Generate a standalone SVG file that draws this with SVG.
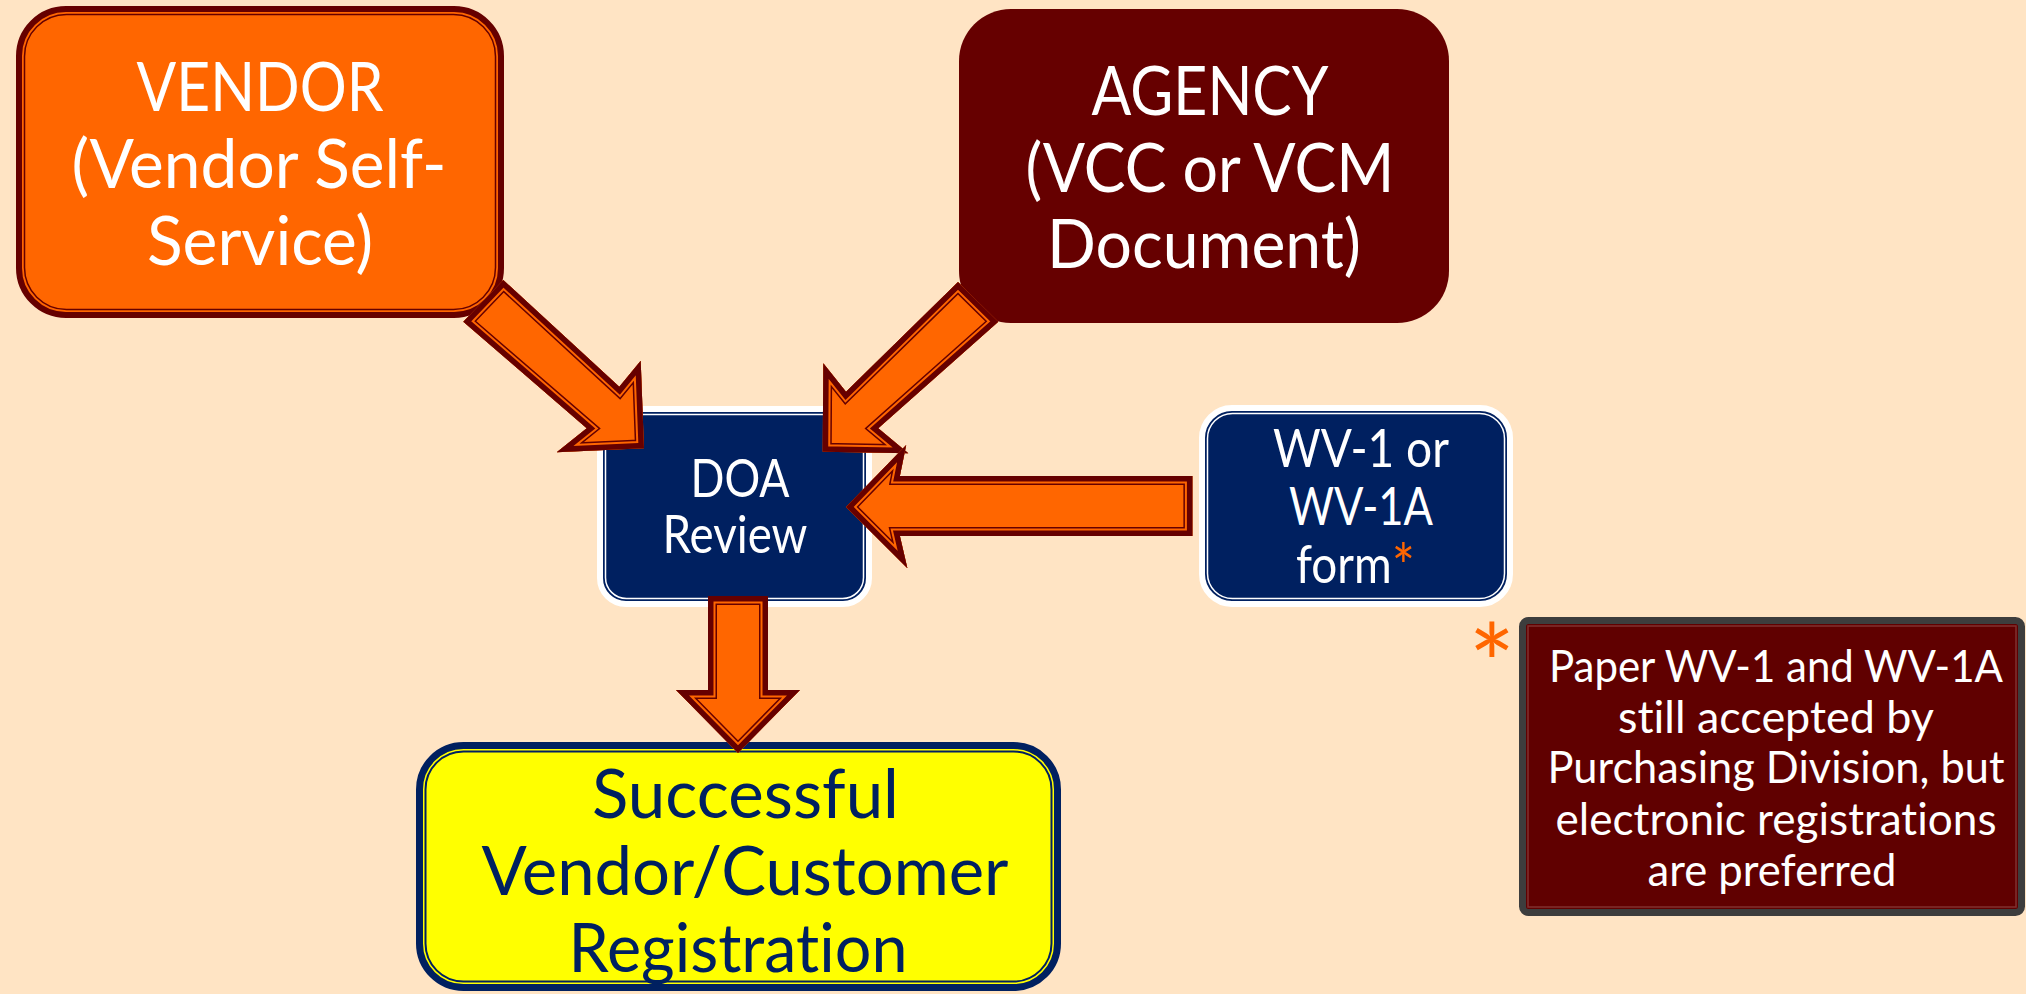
<svg xmlns="http://www.w3.org/2000/svg" width="2026" height="994" viewBox="0 0 2026 994">
<style>
.t{font-family:Lato,"Open Sans","Liberation Sans",sans-serif;font-weight:400;text-anchor:middle;fill:#ffffff;font-variant-ligatures:none;font-feature-settings:"liga" 0,"clig" 0}
.big{font-size:68px}
.mid{font-size:52px}
.sm{font-size:45px}
.succ{font-size:67px;fill:#002060}
.ast{fill:#FF6600}
.af{fill:#FF6600}
.s1{fill:none;stroke:#660000;stroke-width:18;stroke-linejoin:miter;stroke-miterlimit:10}
.s2{fill:none;stroke:#FF6600;stroke-width:15;stroke-linejoin:miter;stroke-miterlimit:10}
.s3{fill:none;stroke:#660000;stroke-width:11;stroke-linejoin:miter;stroke-miterlimit:10}
.navybox{fill:#002060;stroke:#ffffff;stroke-width:6}
.navyin{fill:none;stroke:#ffffff;stroke-width:1.5}
</style>
<defs>
<polygon id="p1" points="503.3,280 619.3,386.7 640.7,360.7 644,448.3 556.7,452.3 586.7,428.3 463.3,321.7"/>
<polygon id="p2" points="958,282 846,391.7 823.3,363.3 822.7,451.7 908.3,453.3 878.3,428.3 998.3,321.7"/>
<polygon id="p3" points="1192.4,476 899.9,476 906.2,445 846,507 907.4,568.3 899.9,536 1192.4,536"/>
<polygon id="p4" points="708,596 768,596 768,690 800,690 738,753 676,690 708,690"/>
<clipPath id="c1"><use href="#p1"/></clipPath>
<clipPath id="c2"><use href="#p2"/></clipPath>
<clipPath id="c3"><use href="#p3"/></clipPath>
<clipPath id="c4"><use href="#p4"/></clipPath>
</defs>
<rect width="2026" height="994" fill="#FFE4C4"/>

<g id="node-vendor">
<rect x="19" y="9" width="482" height="306" rx="47" fill="#FF6600" stroke="#660000" stroke-width="6"/>
<rect x="24.5" y="14.5" width="471" height="295" rx="42" fill="none" stroke="#660000" stroke-width="1.5"/>
<text class="t big" x="260" y="111" textLength="247" lengthAdjust="spacingAndGlyphs">VENDOR</text>
<text class="t big" x="259" y="188" textLength="375" lengthAdjust="spacingAndGlyphs">(Vendor Self-</text>
<text class="t big" x="260" y="265" textLength="226" lengthAdjust="spacingAndGlyphs">Service)</text>
</g>

<g id="node-agency">
<rect x="959" y="9" width="490" height="314" rx="52" fill="#660000"/>
<text class="t big" x="1210" y="115" textLength="237" lengthAdjust="spacingAndGlyphs">AGENCY</text>
<text class="t big" x="1210" y="192" textLength="369" lengthAdjust="spacingAndGlyphs">(VCC or VCM</text>
<text class="t big" x="1204" y="268" textLength="314" lengthAdjust="spacingAndGlyphs">Document)</text>
</g>

<g id="node-success">
<rect x="419.5" y="745.5" width="638" height="242" rx="44" fill="#FFFF00" stroke="#002060" stroke-width="7"/>
<rect x="425.5" y="751.5" width="626" height="230" rx="38" fill="none" stroke="#002060" stroke-width="2"/>
<text class="t succ" x="745.5" y="818" textLength="307" lengthAdjust="spacingAndGlyphs">Successful</text>
<text class="t succ" x="745" y="895" textLength="527" lengthAdjust="spacingAndGlyphs">Vendor/Customer</text>
<text class="t succ" x="738" y="972" textLength="339" lengthAdjust="spacingAndGlyphs">Registration</text>
</g>

<g id="node-doa">
<rect class="navybox" x="600" y="409" width="269" height="195" rx="26"/>
<rect class="navyin" x="605.5" y="414.5" width="258" height="184" rx="21"/>
<text class="t mid" x="740" y="497" textLength="99" lengthAdjust="spacingAndGlyphs">DOA</text>
<text class="t mid" x="735" y="553" textLength="145" lengthAdjust="spacingAndGlyphs">Review</text>
</g>

<g id="node-wv1">
<rect class="navybox" x="1202" y="408" width="308" height="196" rx="30"/>
<rect class="navyin" x="1207.5" y="413.5" width="297" height="185" rx="25"/>
<text class="t mid" x="1361" y="467" textLength="176" lengthAdjust="spacingAndGlyphs">WV-1 or</text>
<text class="t mid" x="1361" y="525" textLength="144" lengthAdjust="spacingAndGlyphs">WV-1A</text>
<text class="t mid" x="1355.5" y="583" textLength="119" lengthAdjust="spacingAndGlyphs">form<tspan class="ast" dy="6" style="font-size:62px">*</tspan></text>
</g>

<g id="node-note">
<text class="t ast" x="1492" y="705" style="font-size:110px">*</text>
<rect x="1522.5" y="620.5" width="499" height="292" rx="6" fill="#600000" stroke="#3d3d3d" stroke-width="7"/>
<rect x="1528" y="626" width="488" height="281" fill="none" stroke="#80302f" stroke-width="1.5"/>
<text class="t sm" x="1776" y="682" textLength="454" lengthAdjust="spacingAndGlyphs">Paper WV-1 and WV-1A</text>
<text class="t sm" x="1776" y="733" textLength="316" lengthAdjust="spacingAndGlyphs">still accepted by</text>
<text class="t sm" x="1776" y="783" textLength="457" lengthAdjust="spacingAndGlyphs">Purchasing Division, but</text>
<text class="t sm" x="1776" y="835" textLength="441" lengthAdjust="spacingAndGlyphs">electronic registrations</text>
<text class="t sm" x="1772" y="886" textLength="249" lengthAdjust="spacingAndGlyphs">are preferred</text>
</g>

<g id="connectors">
<g clip-path="url(#c1)"><use href="#p1" class="af"/><use href="#p1" class="s1"/><use href="#p1" class="s2"/><use href="#p1" class="s3"/></g>
<g clip-path="url(#c2)"><use href="#p2" class="af"/><use href="#p2" class="s1"/><use href="#p2" class="s2"/><use href="#p2" class="s3"/></g>
<g clip-path="url(#c3)"><use href="#p3" class="af"/><use href="#p3" class="s1"/><use href="#p3" class="s2"/><use href="#p3" class="s3"/></g>
<g clip-path="url(#c4)"><use href="#p4" class="af"/><use href="#p4" class="s1"/><use href="#p4" class="s2"/><use href="#p4" class="s3"/></g>
</g>
</svg>
